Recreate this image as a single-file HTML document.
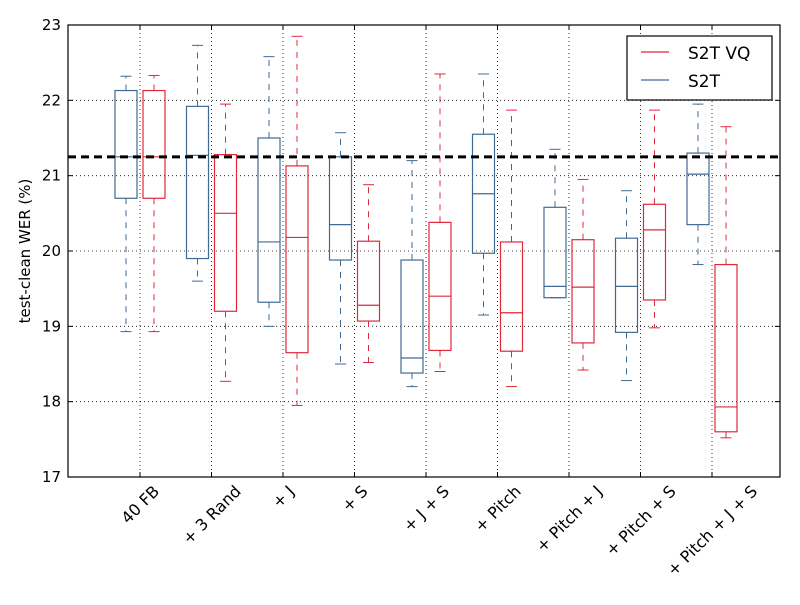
<!DOCTYPE html>
<html><head><meta charset="utf-8"><style>
body{margin:0;background:#fff;}
svg{font-family:"DejaVu Sans","Liberation Sans",sans-serif;}
</style></head><body>
<svg id="chart" width="800" height="600">
<rect width="800" height="600" fill="#fff"/>
<g id="grid"></g><g id="marks"></g><g id="axes"></g>
<text x="0" y="0" transform="translate(30,251) rotate(-90)" text-anchor="middle" font-size="15">test-clean WER (%)</text>
<g>
<rect x="627" y="36" width="145" height="64" fill="#fff" stroke="#000" stroke-width="1.2"/>
<line x1="641" y1="52" x2="669" y2="52" stroke="#e0283c" stroke-width="1.2"/>
<text x="688" y="59" font-size="17">S2T VQ</text>
<line x1="641" y1="80" x2="669" y2="80" stroke="#3f6a94" stroke-width="1.2"/>
<text x="688" y="87" font-size="17">S2T</text>
</g>
</svg>
<script>
const categories=["40 FB","+ 3 Rand","+ J","+ S","+ J + S","+ Pitch","+ Pitch + J","+ Pitch + S","+ Pitch + J + S"];
// [whiskerLow, q1, median, q3, whiskerHigh]
const s2tStats=[[18.93,20.7,21.25,22.13,22.32],[19.6,19.9,21.27,21.92,22.73],[19.0,19.32,20.12,21.5,22.58],[18.5,19.88,20.35,21.25,21.57],[18.2,18.38,18.58,19.88,21.2],[19.15,19.97,20.76,21.55,22.35],[19.38,19.38,19.53,20.58,21.35],[18.28,18.92,19.53,20.17,20.8],[19.82,20.35,21.02,21.3,21.95]];
const s2tvqStats=[[18.93,20.7,21.25,22.13,22.33],[18.27,19.2,20.5,21.28,21.95],[17.95,18.65,20.18,21.13,22.85],[18.52,19.07,19.28,20.13,20.88],[18.4,18.68,19.4,20.38,22.35],[18.2,18.67,19.18,20.12,21.87],[18.42,18.78,19.52,20.15,20.95],[18.98,19.35,20.28,20.62,21.87],[17.52,17.6,17.93,19.82,21.65]];
const yTicks=[17,18,19,20,21,22,23];
const baseline=21.25;
const X0=68,X1=780,Y0=25,Y1=477,YMIN=17,YMAX=23;
const ns="http://www.w3.org/2000/svg";
function y(v){return Y1-(v-YMIN)/(YMAX-YMIN)*(Y1-Y0);}
function x(i){return 140+i*71.5;}
function mk(tag,attrs,parent){const e=document.createElementNS(ns,tag);for(const k in attrs)e.setAttribute(k,attrs[k]);parent.appendChild(e);return e;}
const grid=document.getElementById('grid'),marks=document.getElementById('marks'),axes=document.getElementById('axes');
yTicks.forEach(t=>{
  if(t>YMIN&&t<YMAX){const g=mk('line',{x1:X0,x2:X1,y1:y(t),y2:y(t),stroke:'#000','stroke-width':0.8,'stroke-dasharray':'1,3'},grid);
  
  }
  const l=mk('text',{x:X0-7,y:y(t)+5,'text-anchor':'end','font-size':15},axes);l.textContent=t;
  
  
  mk('line',{x1:X0,x2:X0+5,y1:y(t),y2:y(t),stroke:'#000'},axes);
  mk('line',{x1:X1,x2:X1-5,y1:y(t),y2:y(t),stroke:'#000'},axes);
});
const FS=16;
categories.forEach((c,i)=>{
  const g=mk('line',{x1:x(i),x2:x(i),y1:Y0,y2:Y1,stroke:'#000','stroke-width':0.8,'stroke-dasharray':'1,3'},grid);
  
  
  mk('line',{x1:x(i),x2:x(i),y1:Y1,y2:Y1-5,stroke:'#000'},axes);
  mk('line',{x1:x(i),x2:x(i),y1:Y0,y2:Y0+5,stroke:'#000'},axes);
  const t=mk('text',{x:0,y:FS*0.36,'text-anchor':'middle','font-size':FS},axes);
  t.textContent=c;
  
  
  const L=t.getComputedTextLength();
  const h=(L+FS*0.75)*0.7071;
  t.setAttribute('transform',`translate(${x(i)},${Y1+7+h/2}) rotate(-45)`);
});
function box(s,cx,color,name){
  const g=mk('g',{},marks);
  
  
  const w=11,cw=5.5;
  mk('line',{x1:cx,x2:cx,y1:y(s[3]),y2:y(s[4]),stroke:color,'stroke-dasharray':'6,6'},g);
  mk('line',{x1:cx,x2:cx,y1:y(s[1]),y2:y(s[0]),stroke:color,'stroke-dasharray':'6,6'},g);
  mk('line',{x1:cx-cw,x2:cx+cw,y1:y(s[4]),y2:y(s[4]),stroke:color},g);
  mk('line',{x1:cx-cw,x2:cx+cw,y1:y(s[0]),y2:y(s[0]),stroke:color},g);
  mk('rect',{x:cx-w,y:y(s[3]),width:2*w,height:y(s[1])-y(s[3]),fill:'none',stroke:color,'stroke-width':1.2},g);
  mk('line',{x1:cx-w,x2:cx+w,y1:y(s[2]),y2:y(s[2]),stroke:color,'stroke-width':1.2},g);
}
s2tStats.forEach((s,i)=>box(s,x(i)-14,'#3f6a94','box-s2t-'+i));
s2tvqStats.forEach((s,i)=>box(s,x(i)+14,'#e0283c','box-s2t-vq-'+i));
const bl=mk('line',{x1:X0,x2:X1,y1:y(baseline),y2:y(baseline),stroke:'#000','stroke-width':3,'stroke-dasharray':'8,5'},marks);


const fr=mk('rect',{x:X0,y:Y0,width:X1-X0,height:Y1-Y0,fill:'none',stroke:'#000','stroke-width':1.2},axes);


</script>
</body></html>
